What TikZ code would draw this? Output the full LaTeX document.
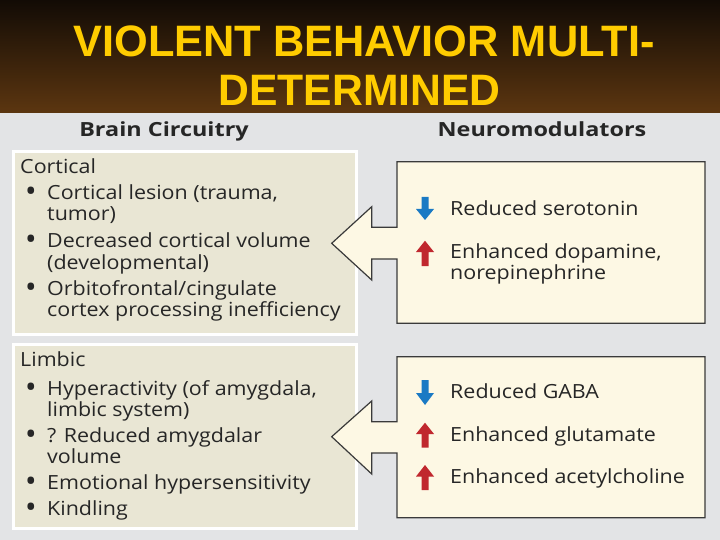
\documentclass[tikz,border=0pt]{standalone}
\usepackage{fontspec}
\setmainfont{Open Sans}
\newfontfamily\titlefont{Liberation Sans}
\definecolor{bg}{HTML}{E3E4E6}
\definecolor{titletop}{HTML}{120B05}
\definecolor{titlebot}{HTML}{5C3610}
\definecolor{titleyellow}{HTML}{FFCC00}
\definecolor{leftfill}{HTML}{E9E6D4}
\definecolor{cream}{HTML}{FDF8E4}
\definecolor{frame}{HTML}{3A3A3A}
\definecolor{txt}{HTML}{262626}
\definecolor{upred}{HTML}{C0282E}
\definecolor{downblue}{HTML}{1A7AC4}
\begin{document}
\begin{tikzpicture}[x=1pt,y=-1pt,
  titletext/.style={anchor=base, inner sep=0pt, text=titleyellow, font=\titlefont\bfseries\fontsize{44}{48}\selectfont},
  header/.style={anchor=base, inner sep=0pt, text=txt, font=\bfseries\fontsize{19.5}{22}\selectfont, xscale=1.2},
  body/.style={anchor=base west, inner sep=0pt, text=txt, font=\fontsize{19.5}{22}\selectfont, xscale=1.1},
  bulletmark/.style={anchor=base, inner sep=0pt, text=txt, font=\bfseries\fontsize{24}{26}\selectfont},
  leftbox/.style={draw=white, line width=3pt, fill=leftfill},
  rightbox/.style={draw=frame, line width=1.2pt, fill=cream, line join=miter},
  uparr/.style={fill=upred},
  downarr/.style={fill=downblue}
]
\useasboundingbox (0,0) rectangle (720,540);
\fill[bg] (0,113) rectangle (720,540);
\shade[top color=titletop, bottom color=titlebot] (0,0) rectangle (720,113);

% title
\node[titletext, xscale=0.985] (t1) at (364,56.5) {VIOLENT BEHAVIOR MULTI-};
\node[titletext, xscale=0.97] (t2) at (359.5,105.5) {DETERMINED};

% headers
\node[header] (h1) at (164,137) {Brain Circuitry};
\node[header] (h2) at (542,137) {Neuromodulators};

% left boxes
\draw[leftbox] (13.5,151.5) rectangle (356.5,334.5);
\draw[leftbox] (13.5,344.5) rectangle (356.5,528.5);

% right boxes with arrows
\draw[rightbox] (397,227.3) -- (397,161.7) -- (705,161.7) -- (705,323.3) -- (397,323.3)
  -- (397,259) -- (371.7,259) -- (371.7,280) -- (331.7,243.3) -- (371.7,206.7)
  -- (371.7,227.3) -- cycle;
\draw[rightbox] (397,421.7) -- (397,356.7) -- (705,356.7) -- (705,517.7) -- (397,517.7)
  -- (397,453) -- (371.7,453) -- (371.7,474) -- (331.7,436.7) -- (371.7,401)
  -- (371.7,421.7) -- cycle;

% Cortical text
\node[body] (c0) at (20,173.5) {Cortical};
\node[bulletmark] (cb1) at (31,200) {\textbullet};
\node[body] (c1) at (47,200) {Cortical lesion (trauma,};
\node[body] (c1b) at (47,221) {tumor)};
\node[bulletmark] (cb2) at (31,247.5) {\textbullet};
\node[body] (c2) at (47,247.5) {Decreased cortical volume};
\node[body] (c2b) at (47,269) {(developmental)};
\node[bulletmark] (cb3) at (31,295) {\textbullet};
\node[body] (c3) at (47,295) {Orbitofrontal/cingulate};
\node[body] (c3b) at (47,316.5) {cortex processing inefficiency};

% Limbic text
\node[body] (l0) at (20,366) {Limbic};
\node[bulletmark] (lb1) at (31,395) {\textbullet};
\node[body] (l1) at (47,395) {Hyperactivity (of amygdala,};
\node[body] (l1b) at (47,416) {limbic system)};
\node[bulletmark] (lb2) at (31,442) {\textbullet};
\node[body] (l2) at (47,442) {? Reduced amygdalar};
\node[body] (l2b) at (47,463) {volume};
\node[bulletmark] (lb3) at (31,489) {\textbullet};
\node[body] (l3) at (47,489) {Emotional hypersensitivity};
\node[bulletmark] (lb4) at (31,515) {\textbullet};
\node[body] (l4) at (47,515) {Kindling};

% right box 1 text
\node[body] (r1) at (450,215) {Reduced serotonin};
\node[body] (r2) at (450,258.5) {Enhanced dopamine,};
\node[body] (r2b) at (450,279) {norepinephrine};
% right box 2 text
\node[body] (r3) at (450,398.3) {Reduced GABA};
\node[body] (r4) at (450,441) {Enhanced glutamate};
\node[body] (r5) at (450,483.3) {Enhanced acetylcholine};

% small arrows
\fill[downarr] (421.5,197) -- (428.5,197) -- (428.5,209) -- (434,209) -- (425,220) -- (416,209) -- (421.5,209) -- cycle;
\fill[uparr] (425,240.7) -- (434,252) -- (428.5,252) -- (428.5,266) -- (421.5,266) -- (421.5,252) -- (416,252) -- cycle;
\fill[downarr] (421.5,380) -- (428.5,380) -- (428.5,393) -- (434,393) -- (425,405) -- (416,393) -- (421.5,393) -- cycle;
\fill[uparr] (425,422.7) -- (434,434) -- (428.5,434) -- (428.5,447.7) -- (421.5,447.7) -- (421.5,434) -- (416,434) -- cycle;
\fill[uparr] (425,465) -- (434,476.5) -- (428.5,476.5) -- (428.5,490) -- (421.5,490) -- (421.5,476.5) -- (416,476.5) -- cycle;
\end{tikzpicture}
\end{document}
